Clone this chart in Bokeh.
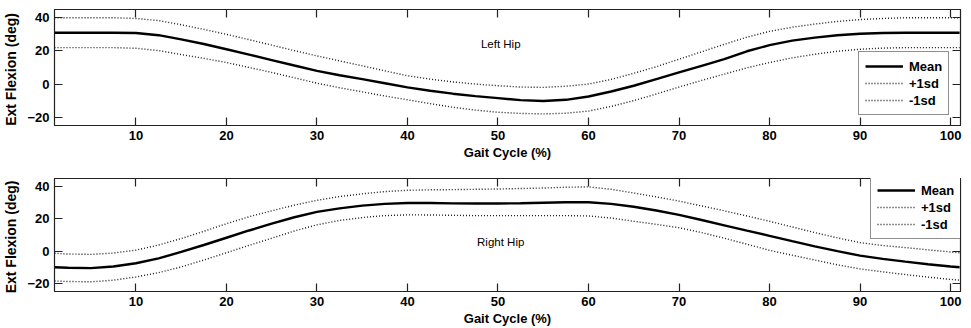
from bokeh.plotting import figure
from bokeh.layouts import column
from bokeh.models import LinearAxis, FixedTicker, Range1d, Legend, LegendItem, Label
from bokeh.embed import file_html
from bokeh.resources import INLINE

# ---- data ----
gait = [1, 2.5, 5, 7.5, 10, 12.5, 15, 17.5, 20, 22.5, 25, 27.5, 30, 32.5, 35, 37.5, 40, 42.5, 45, 47.5,
        50, 52.5, 55, 57.5, 60, 62.5, 65, 67.5, 70, 72.5, 75, 77.5, 80, 82.5, 85, 87.5, 90, 92.5, 95, 97.5,
        100, 101]

left_mean = [31, 31, 31, 31, 30.8, 29.5, 27, 24.2, 21, 17.8, 14.5, 11.2, 8, 5.3, 3, 0.5, -2, -4, -5.8, -7.3,
             -8.5, -9.7, -10.2, -9.5, -7.5, -4.5, -1, 3, 7, 11, 15, 19.8, 23.5, 26.2, 28, 29.5, 30.4, 30.8, 31, 31,
             31, 31]
left_plus = [40, 40, 40, 40, 39.6, 38.3, 35.8, 33, 30, 26.8, 23.5, 20.2, 17, 14, 11, 8, 5, 3, 1.3, 0,
             -1, -1.8, -2, -1.3, 0, 2.8, 6.5, 10.5, 15, 19.5, 24, 28.3, 31.8, 34.3, 36.2, 37.8, 38.9, 39.6, 40, 40,
             40, 40]
left_minus = [22, 22, 22, 22, 21.6, 20.2, 17.8, 15.5, 13, 10, 7, 3.8, 0.5, -2.2, -4.7, -7.2, -9.5, -11.8, -14, -15.7,
              -17, -17.7, -18, -17.6, -16.3, -13.5, -10, -6, -1.8, 2.2, 6, 9.8, 13, 15.8, 18, 19.8, 21, 21.7, 22, 22,
              22, 22]

right_mean = [-10, -10.3, -10.5, -9.5, -7.5, -4.5, -0.5, 3.8, 8.3, 12.8, 17, 21, 24.3, 26.5, 28.2, 29.3, 29.8, 29.8, 29.6, 29.5,
              29.5, 29.7, 30, 30.3, 30.3, 29.3, 27.5, 25.2, 22.5, 19.3, 16, 12.7, 9.5, 6.2, 3, 0, -2.8, -4.8, -6.5, -8.1,
              -9.5, -10]
right_plus = [-1.3, -1.8, -2, -1.2, 0.6, 3.8, 7.8, 12.3, 17, 21.3, 25, 28.5, 31.5, 33.8, 35.5, 36.9, 37.7, 38, 38.1, 38.3,
              38.5, 38.8, 39.1, 39.6, 39.8, 38.3, 36, 33.6, 31, 28, 25, 21.8, 18.5, 15, 11.5, 8.2, 5.3, 3.5, 2.2, 0.8,
              -0.5, -1]
right_minus = [-18.5, -18.8, -19, -18, -16, -13.3, -9.8, -5.5, -1, 3.6, 8, 12.5, 16.3, 19, 20.8, 22, 22.5, 22.4, 22.2, 22,
               22, 22, 22, 22, 21.8, 20.5, 18.5, 16.6, 14.5, 11.5, 8, 4.3, 0.5, -2.5, -5.5, -8.5, -11, -12.8, -14.5, -16.1,
               -17.5, -18]

x_ticks = [10, 20, 30, 40, 50, 60, 70, 80, 90, 100]
y_ticks = [-20, 0, 20, 40]
legend_labels = ["Mean", "+1sd", "-1sd"]
titles = ["Left Hip", "Right Hip"]
x_label = "Gait Cycle (%)"
y_label = "Ext  Flexion (deg)"

FONT = "Liberation Sans"


def make_panel(mean, plus, minus, title, title_xy, legend_loc, border_top, border_bottom):
    p = figure(width=971, height=164, output_backend="svg", toolbar_location=None,
               x_range=Range1d(1, 101.1), y_range=Range1d(-25, 45),
               min_border_left=50, min_border_right=11,
               min_border_top=border_top, min_border_bottom=border_bottom,
               background_fill_color="white", border_fill_color="white")
    p.grid.visible = False
    p.outline_line_color = "#222222"
    p.outline_line_width = 1.2

    for ax in (p.xaxis[0], p.yaxis[0]):
        ax.major_tick_in = 8
        ax.major_tick_out = 0
        ax.minor_tick_in = 0
        ax.minor_tick_out = 0
        ax.axis_line_color = "#222222"
        ax.major_tick_line_color = "#222222"
        ax.major_tick_line_width = 1.2
        ax.major_label_text_font = FONT
        ax.major_label_text_font_style = "bold"
        ax.major_label_text_font_size = "13px"
        ax.major_label_text_color = "black"
        ax.axis_label_text_font = FONT
        ax.axis_label_text_font_style = "bold"
        ax.axis_label_text_color = "black"
        ax.major_label_standoff = 5
    p.xaxis[0].ticker = FixedTicker(ticks=x_ticks)
    p.yaxis[0].ticker = FixedTicker(ticks=y_ticks)
    p.xaxis[0].axis_label = x_label
    p.xaxis[0].axis_label_text_font_size = "13px"
    p.xaxis[0].axis_label_standoff = 2
    p.yaxis[0].axis_label = y_label
    p.yaxis[0].axis_label_text_font_size = "14px"
    p.yaxis[0].axis_label_standoff = 5

    # mirrored inward ticks on top and right
    top = LinearAxis(ticker=FixedTicker(ticks=x_ticks),
                     major_label_overrides={t: "" for t in x_ticks})
    right = LinearAxis(ticker=FixedTicker(ticks=y_ticks),
                       major_label_overrides={t: "" for t in y_ticks})
    for ax in (top, right):
        ax.major_tick_in = 8
        ax.major_tick_out = 0
        ax.minor_tick_in = 0
        ax.minor_tick_out = 0
        ax.major_label_standoff = 0
        ax.major_label_text_font_size = "0px"
        ax.axis_line_color = "#222222"
        ax.major_tick_line_color = "#222222"
        ax.major_tick_line_width = 1.2
    p.add_layout(top, "above")
    p.add_layout(right, "right")

    r_mean = p.line(gait, mean, line_color="black", line_width=2.4)
    r_plus = p.line(gait, plus, line_color="#1a1a1a", line_width=1.4, line_dash="1 2")
    r_minus = p.line(gait, minus, line_color="#1a1a1a", line_width=1.4, line_dash="1 2")

    legend = Legend(items=[LegendItem(label=legend_labels[0], renderers=[r_mean]),
                           LegendItem(label=legend_labels[1], renderers=[r_plus]),
                           LegendItem(label=legend_labels[2], renderers=[r_minus])],
                    location=legend_loc)
    legend.label_text_font = FONT
    legend.label_text_font_style = "bold"
    legend.label_text_font_size = "13px"
    legend.label_text_color = "black"
    legend.glyph_width = 38
    legend.glyph_height = 16
    legend.label_height = 16
    legend.label_standoff = 6
    legend.spacing = 1
    legend.padding = 6
    legend.margin = 0
    legend.border_line_color = "#222222"
    legend.border_line_width = 1.2
    legend.background_fill_color = "white"
    legend.background_fill_alpha = 1
    p.add_layout(legend, "center")

    p.add_layout(Label(x=title_xy[0], y=title_xy[1], text=title, text_align="center",
                       text_baseline="middle", text_font=FONT, text_font_size="11.5px",
                       text_color="black"))
    return p


p1 = make_panel(left_mean, left_plus, left_minus, titles[0], (50.3, 24.2), (804, 10), 9, 39)
p2 = make_panel(right_mean, right_plus, right_minus, titles[1], (50.3, 5.5), (816, 52), 14, 35)

layout = column(p1, p2, spacing=0)
open("out.html", "w").write(file_html(layout, INLINE))
